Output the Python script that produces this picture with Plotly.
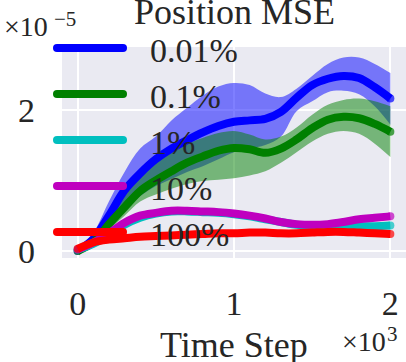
import plotly.graph_objects as go

# time steps and position MSE (in units of 1e-5)
steps = [0, 100, 200, 300, 400, 500, 600, 700, 800, 900, 1000,
         1100, 1200, 1300, 1400, 1500, 1600, 1700, 1800, 1900, 2000]

mse_001 = [0.0, 0.17, 0.5, 0.86, 1.1, 1.3, 1.45, 1.57, 1.68, 1.77, 1.83,
           1.85, 1.87, 1.97, 2.17, 2.35, 2.44, 2.48, 2.45, 2.32, 2.16]
mse_001_hi = [0.0, 0.25, 0.7, 1.12, 1.45, 1.62, 1.85, 2.03, 2.2, 2.33, 2.38,
              2.35, 2.23, 2.18, 2.3, 2.48, 2.65, 2.74, 2.74, 2.65, 2.52]
mse_001_lo = [0.0, 0.12, 0.35, 0.6, 0.78, 0.92, 1.02, 1.12, 1.2, 1.3, 1.4,
              1.45, 1.5, 1.62, 1.98, 2.12, 2.25, 2.27, 2.22, 2.05, 1.79]

mse_01 = [0.0, 0.12, 0.38, 0.62, 0.85, 1.0, 1.13, 1.25, 1.34, 1.42, 1.46,
          1.44, 1.39, 1.45, 1.58, 1.74, 1.86, 1.9, 1.88, 1.8, 1.69]
mse_01_hi = [0.0, 0.16, 0.48, 0.78, 1.05, 1.25, 1.4, 1.52, 1.6, 1.67, 1.7,
             1.65, 1.58, 1.62, 1.75, 1.93, 2.07, 2.14, 2.16, 2.12, 2.05]
mse_01_lo = [0.0, 0.08, 0.3, 0.5, 0.7, 0.8, 0.88, 0.95, 0.99, 1.01, 1.03,
             1.07, 1.13, 1.25, 1.4, 1.55, 1.66, 1.7, 1.66, 1.52, 1.33]

mse_1 = [0.02, 0.1, 0.22, 0.37, 0.47, 0.53, 0.56, 0.56, 0.55, 0.54, 0.52,
         0.49, 0.45, 0.41, 0.37, 0.35, 0.34, 0.34, 0.35, 0.35, 0.36]
mse_10 = [0.02, 0.12, 0.25, 0.4, 0.5, 0.54, 0.57, 0.57, 0.56, 0.55, 0.53,
          0.5, 0.46, 0.41, 0.38, 0.37, 0.38, 0.41, 0.45, 0.47, 0.49]
mse_100 = [0.03, 0.12, 0.16, 0.18, 0.2, 0.21, 0.22, 0.23, 0.24, 0.25, 0.25,
           0.26, 0.26, 0.25, 0.25, 0.26, 0.27, 0.27, 0.26, 0.25, 0.24]

labels = ["0.01%", "0.1%", "1%", "10%", "100%"]
colors = ["#0000FF", "#008000", "#00BFBF", "#BF00BF", "#FF0000"]
scale = 1e-5

FONT = "Liberation Serif"
TXT = "#262626"

# plot area in pixels (406x362 canvas)
L, T, R, B = 62, 47, 406, 258


def px(x):
    return (x - L) / (R - L)


def py(y):
    return (B - y) / (B - T)


def sc(vals):
    return [v * scale for v in vals]


def label(x, y, text, size, xanchor="left"):
    fig.add_annotation(xref="paper", yref="paper", x=px(x), y=py(y), text=text,
                       showarrow=False, xanchor=xanchor, yanchor="middle",
                       font=dict(family=FONT, size=size, color=TXT))


fig = go.Figure()

# bands first
bands = [(mse_001_hi, mse_001_lo, "rgba(0,0,255,0.5)"),
         (mse_01_hi, mse_01_lo, "rgba(0,128,0,0.5)")]
for hi, lo, fc in bands:
    fig.add_trace(go.Scatter(x=steps, y=sc(hi), mode="lines", line=dict(width=0, shape="spline"),
                             hoverinfo="skip", showlegend=False))
    fig.add_trace(go.Scatter(x=steps, y=sc(lo), mode="lines", line=dict(width=0, shape="spline"),
                             fill="tonexty", fillcolor=fc, hoverinfo="skip", showlegend=False))

series = [mse_001, mse_01, mse_1, mse_10, mse_100]
ends = [8] + [0] * (len(steps) - 2) + [8]
for vals, name, c in zip(series, labels, colors):
    fig.add_trace(go.Scatter(x=steps, y=sc(vals), name=name, mode="lines+markers",
                             line=dict(color=c, width=8, shape="spline"),
                             marker=dict(size=ends, color=c, line=dict(width=0)),
                             showlegend=False))

# hand-made legend
rows = [48, 94, 140, 186, 232]
for yy, name, c in zip(rows, labels, colors):
    fig.add_shape(type="line", xref="paper", yref="paper", x0=px(57), x1=px(123),
                  y0=py(yy), y1=py(yy), line=dict(color=c, width=8), layer="above")
    for cx in (57, 123):
        fig.add_shape(type="circle", xref="paper", yref="paper",
                      x0=px(cx - 4), x1=px(cx + 4), y0=py(yy + 4), y1=py(yy - 4),
                      fillcolor=c, line=dict(width=0), layer="above")
    label(148, yy + 2, name, 34)

label(234, 12, "Position MSE", 36, "center")
label(234, 345, "Time Step", 36, "center")
# offset multipliers
label(2, 26.5, "×10", 28)
label(52, 19, "−5", 21)
label(340, 341.5, "×10", 28)
label(385, 333.5, "3", 21)

fig.update_xaxes(range=[-100, 2100], tickvals=[0, 1000, 2000], ticktext=["0", "1", "2"],
                 showgrid=True, gridcolor="white", gridwidth=1.5, zeroline=False,
                 showline=False, ticks="", ticklabelstandoff=22, automargin=False,
                 tickfont=dict(family=FONT, size=34, color=TXT))
fig.update_yaxes(range=[-0.1 * scale, 2.89 * scale], tickvals=[0, 2 * scale], ticktext=["0", "2"],
                 showgrid=True, gridcolor="white", gridwidth=1.5, zeroline=False,
                 showline=False, ticks="", ticklabelstandoff=26, automargin=False,
                 tickfont=dict(family=FONT, size=34, color=TXT))

fig.update_layout(width=406, height=362, margin=dict(l=L, r=406 - R, t=T, b=362 - B),
                  plot_bgcolor="#EAEAF2", paper_bgcolor="white", showlegend=False)

# the page body has a default 8px margin; drop it so the figure fills the window
fig.write_html("out.html", config={"displayModeBar": False},
               post_script="document.body.style.margin='0';")
